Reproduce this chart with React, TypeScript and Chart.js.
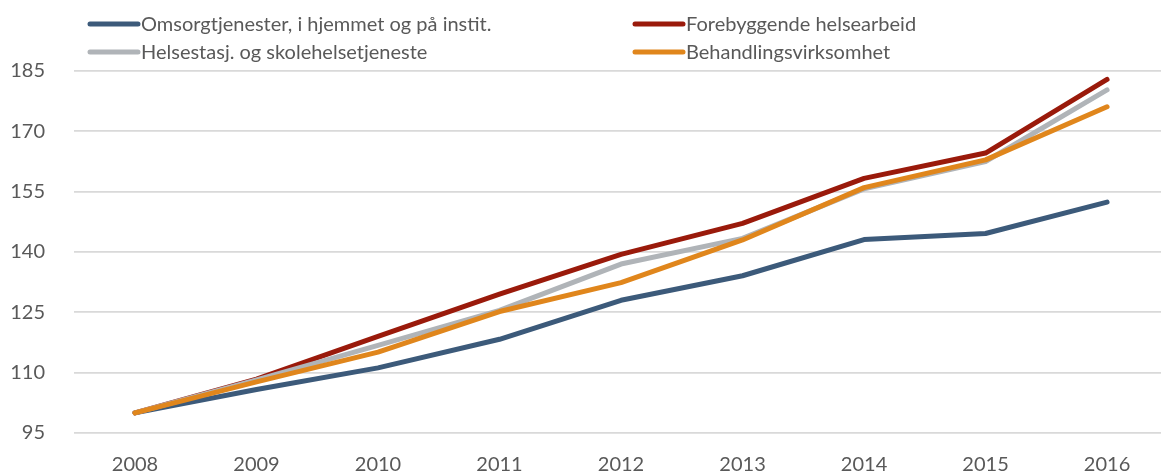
import React, { useEffect, useRef } from "react";
import { Chart, registerables } from "chart.js";

Chart.register(...registerables);

const years = [2008, 2009, 2010, 2011, 2012, 2013, 2014, 2015, 2016];
const yTicks = [95, 110, 125, 140, 155, 170, 185];

const seriesNames = [
  "Omsorgtjenester, i hjemmet og på instit.",
  "Forebyggende helsearbeid",
  "Helsestasj. og skolehelsetjeneste",
  "Behandlingsvirksomhet",
];

const omsorg = [100, 105.8, 111.2, 118.3, 128.0, 134.1, 143.1, 144.6, 152.4];
const forebyggende = [100, 108.4, 119.0, 129.5, 139.4, 147.1, 158.3, 164.6, 182.9];
const helsestasj = [100, 108.2, 116.8, 125.5, 137.0, 143.4, 155.7, 162.5, 180.3];
const behandling = [100, 107.7, 115.1, 125.2, 132.4, 143.0, 156.0, 162.9, 176.1];

const seriesValues = [omsorg, forebyggende, helsestasj, behandling];
const seriesColors = ["#3C5A7A", "#9A1A0B", "#B0B4B8", "#E0861C"];
const drawOrder = [4, 3, 2, 1];

const FONT = "Lato, 'Open Sans', sans-serif";
const TEXT_COLOR = "#595959";

const legendPlugin = {
  id: "customLegend",
  afterDraw(chart: any) {
    const ctx = chart.ctx;
    const cols = [90, 635];
    const rows = [24, 52];
    const layout = [
      [0, 0],
      [1, 0],
      [0, 1],
      [1, 1],
    ];
    ctx.save();
    ctx.font = `20px ${FONT}`;
    ctx.textBaseline = "middle";
    ctx.textAlign = "left";
    seriesNames.forEach((name, i) => {
      const [c, r] = layout[i];
      const x = cols[c];
      const y = rows[r];
      ctx.strokeStyle = seriesColors[i];
      ctx.lineWidth = 5;
      ctx.lineCap = "round";
      ctx.beginPath();
      ctx.moveTo(x, y);
      ctx.lineTo(x + 48, y);
      ctx.stroke();
      ctx.fillStyle = TEXT_COLOR;
      ctx.fillText(name, x + 51, y + 1);
    });
    ctx.restore();
  },
};

export default function App() {
  const ref = useRef<HTMLCanvasElement>(null);

  useEffect(() => {
    const canvas = ref.current;
    if (!canvas) return;
    const chart = new Chart(canvas, {
      type: "line",
      data: {
        datasets: seriesValues.map((vals, i) => ({
          label: seriesNames[i],
          data: vals.map((v, j) => ({ x: years[j], y: v })),
          borderColor: seriesColors[i],
          backgroundColor: seriesColors[i],
          borderWidth: 5,
          borderCapStyle: "round" as const,
          borderJoinStyle: "round" as const,
          pointRadius: 0,
          pointHoverRadius: 0,
          tension: 0,
          fill: false,
          order: drawOrder[i],
          clip: false as any,
        })),
      },
      options: {
        animation: false,
        responsive: false,
        layout: { padding: { top: 71, left: 0, right: 0, bottom: 0 } },
        plugins: {
          legend: { display: false },
          tooltip: { enabled: false },
        },
        scales: {
          x: {
            type: "linear",
            min: 2007.498,
            max: 2016.444,
            grid: { display: false },
            border: { display: false },
            afterBuildTicks: (axis: any) => {
              axis.ticks = years.map((v) => ({ value: v }));
            },
            afterFit: (axis: any) => {
              axis.height = 39;
            },
            ticks: {
              autoSkip: false,
              maxRotation: 0,
              padding: 12,
              color: TEXT_COLOR,
              font: { family: FONT, size: 20 },
              callback: (v: any) => String(v),
            },
          },
          y: {
            min: 95,
            max: 185,
            afterBuildTicks: (axis: any) => {
              axis.ticks = yTicks.map((v) => ({ value: v }));
            },
            afterFit: (axis: any) => {
              axis.width = 74;
            },
            grid: { color: "#D9D9D9", lineWidth: 1.7, drawTicks: false },
            border: { display: false },
            ticks: {
              padding: 29,
              color: TEXT_COLOR,
              font: { family: FONT, size: 20 },
            },
          },
        },
      },
      plugins: [legendPlugin],
    });
    return () => chart.destroy();
  }, []);

  return (
    <div style={{ position: "absolute", left: 0, top: 0, width: 1161, height: 474 }}>
      <canvas ref={ref} width={1161} height={474} style={{ display: "block" }} />
    </div>
  );
}
